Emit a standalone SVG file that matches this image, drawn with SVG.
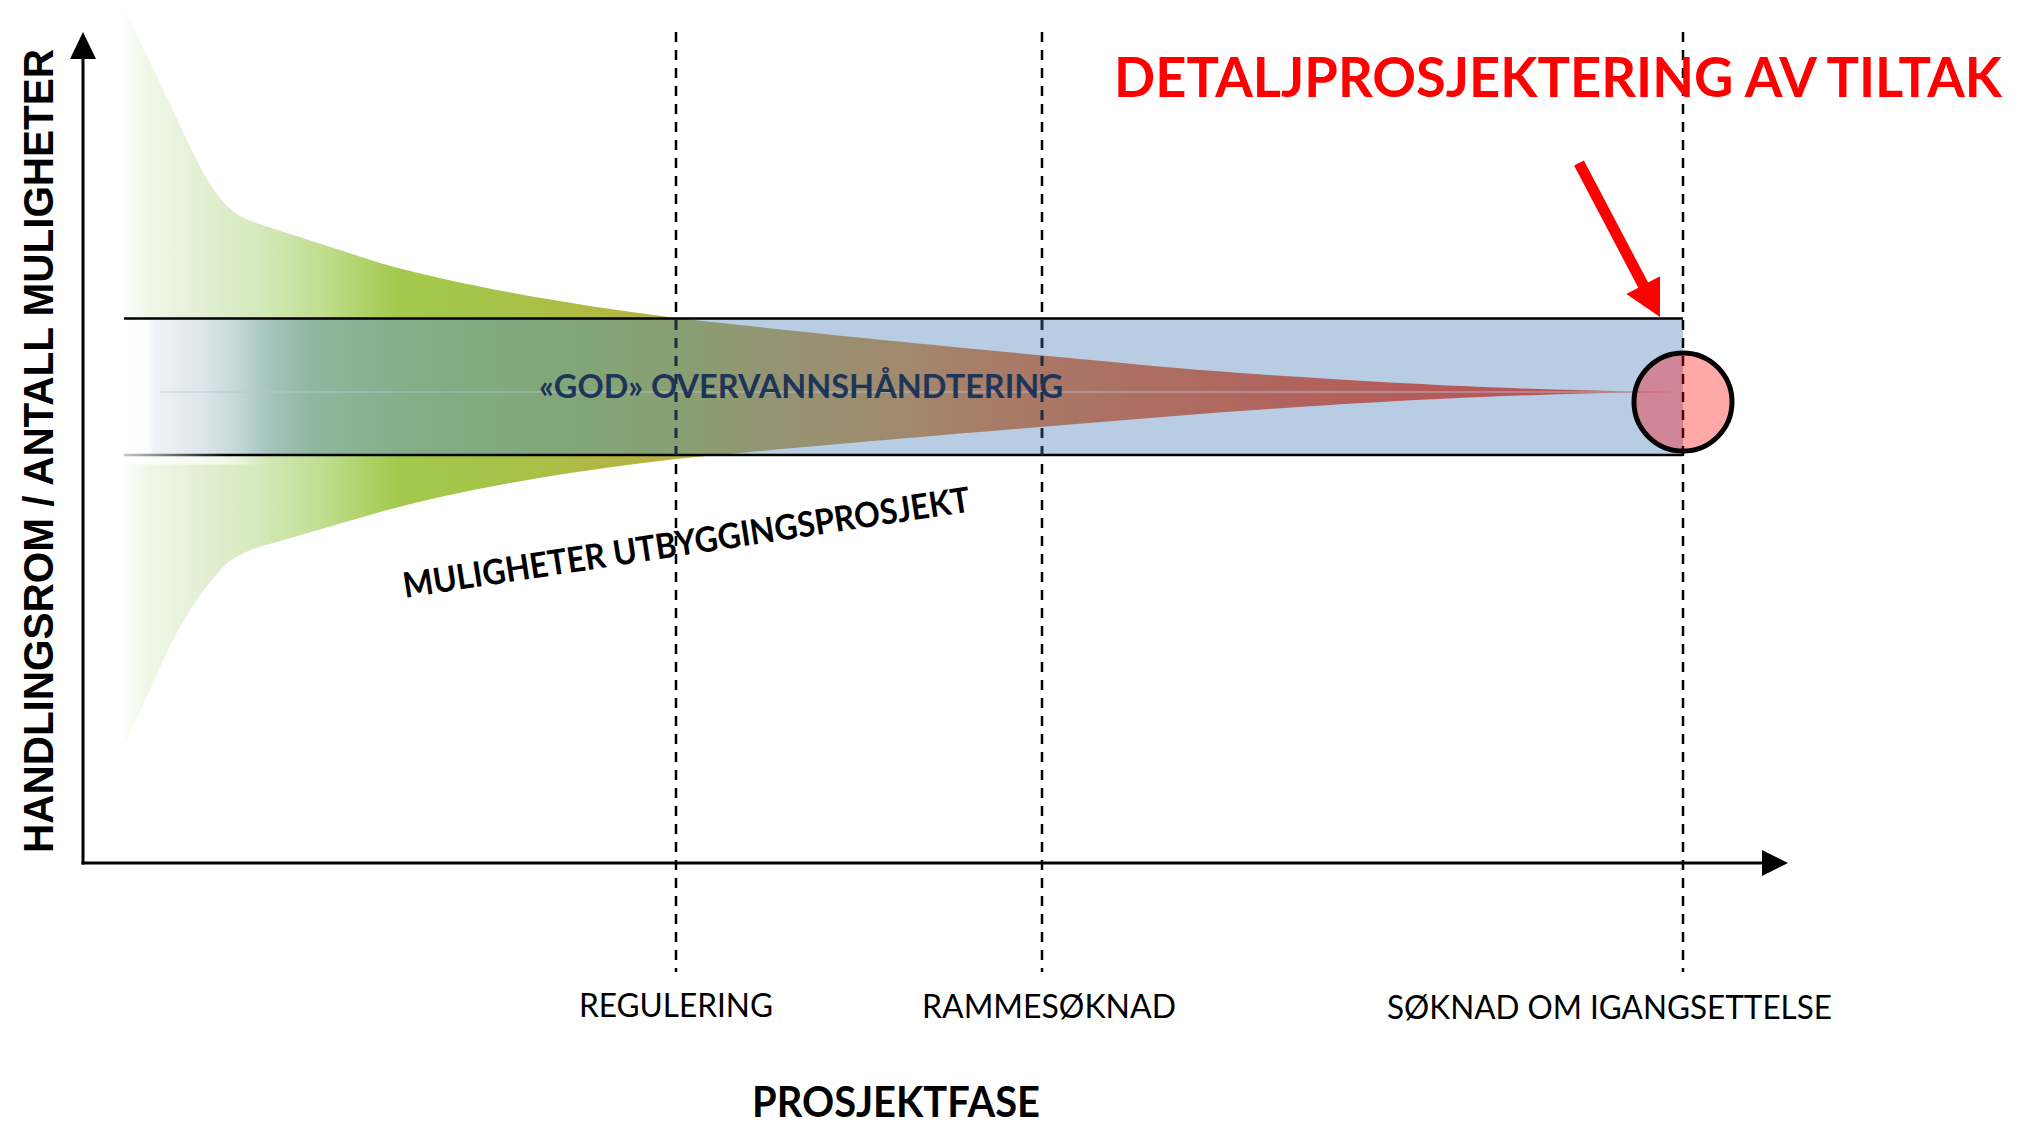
<svg xmlns="http://www.w3.org/2000/svg" width="2036" height="1124" viewBox="0 0 2036 1124">
  <defs>
    <style>
      .lbl{font-family:Lato,"Open Sans","Liberation Sans",sans-serif;font-size:32px;fill:#000}
      .bold{font-weight:700}
      .axis{stroke:#000;stroke-width:3;fill:none}
      .phase{stroke:#000;stroke-width:2.5;stroke-dasharray:10 8;fill:none}
      .phase-in{stroke:#1d2c44;stroke-width:2.5;stroke-dasharray:10 8;fill:none}
      .edge{stroke:#000;stroke-width:2.5}
    </style>
    <!-- colour ramp of the opportunity funnel outside the band -->
    <linearGradient id="funnelOut" gradientUnits="userSpaceOnUse" x1="124" y1="0" x2="1676" y2="0">
      <stop offset="0" stop-color="#fbfdf8"/>
      <stop offset="0.0167" stop-color="#eff7e7"/>
      <stop offset="0.049" stop-color="#e3f0d4"/>
      <stop offset="0.0876" stop-color="#d4e9bb"/>
      <stop offset="0.1263" stop-color="#c1de92"/>
      <stop offset="0.165" stop-color="#a9ce5a"/>
      <stop offset="0.1778" stop-color="#a3c94c"/>
      <stop offset="0.2294" stop-color="#a4c54a"/>
      <stop offset="0.2809" stop-color="#acbd45"/>
      <stop offset="0.3325" stop-color="#b5b443"/>
      <stop offset="0.3711" stop-color="#bab040"/>
      <stop offset="0.5" stop-color="#a88a6e"/>
      <stop offset="1" stop-color="#bf4c52"/>
    </linearGradient>
    <!-- colour ramp of the funnel where it overlaps the band -->
    <linearGradient id="funnelIn" gradientUnits="userSpaceOnUse" x1="124" y1="0" x2="1676" y2="0">
      <stop offset="0" stop-color="#ffffff"/>
      <stop offset="0.0155" stop-color="#fbfcfd"/>
      <stop offset="0.020" stop-color="#eef2f6"/>
      <stop offset="0.049" stop-color="#dfe8ed"/>
      <stop offset="0.0747" stop-color="#c2d6d6"/>
      <stop offset="0.0928" stop-color="#a6c4bd"/>
      <stop offset="0.1211" stop-color="#8fb8a0"/>
      <stop offset="0.1791" stop-color="#84ae88"/>
      <stop offset="0.2655" stop-color="#7fa87b"/>
      <stop offset="0.3518" stop-color="#88a073"/>
      <stop offset="0.4356" stop-color="#979272"/>
      <stop offset="0.5" stop-color="#a08a6e"/>
      <stop offset="0.5644" stop-color="#a87b67"/>
      <stop offset="0.7255" stop-color="#b0665e"/>
      <stop offset="0.8866" stop-color="#b85658"/>
      <stop offset="1" stop-color="#bf4c52"/>
    </linearGradient>
    <linearGradient id="lowerEdge" gradientUnits="userSpaceOnUse" x1="124" y1="0" x2="230" y2="0">
      <stop offset="0" stop-color="#c8c8c8"/>
      <stop offset="1" stop-color="#000"/>
    </linearGradient>
    <linearGradient id="stripFade" gradientUnits="userSpaceOnUse" x1="124" y1="0" x2="270" y2="0">
      <stop offset="0" stop-color="#fff" stop-opacity="0.9"/>
      <stop offset="0.7" stop-color="#fff" stop-opacity="0.6"/>
      <stop offset="1" stop-color="#fff" stop-opacity="0"/>
    </linearGradient>
    <clipPath id="bandClip">
      <rect x="124" y="318.5" width="1559" height="136.5"/>
    </clipPath>
    <path id="funnelPath" d="M124,8 L168,100 C185,135 205,185 228,207 C238,216 245,219 256,223 L380,263 C470,288 580,306 676,318 C800,332 1000,352 1200,370 C1400,385 1550,391 1676,392 C1550,393 1400,399 1200,414 C1000,430 800,447 676,459 C580,470 470,487 380,512 L256,548 C245,552 238,556 228,562 C205,585 185,615 168,650 L124,747 Z"/>
  </defs>

  <rect width="2036" height="1124" fill="#fff"/>

  <!-- funnel of project opportunities -->
  <g id="funnel">
    <use href="#funnelPath" fill="url(#funnelOut)"/>
    <rect x="124" y="456.5" width="146" height="8" fill="url(#stripFade)"/>
  </g>

  <!-- stormwater band -->
  <g id="band">
    <rect x="124" y="318.5" width="1559" height="136.5" fill="#b8cce4"/>
    <use href="#funnelPath" fill="url(#funnelIn)" clip-path="url(#bandClip)"/>
    <line x1="160" y1="392" x2="1676" y2="392" stroke="#b4c8d4" stroke-width="1.5" opacity="0.55"/>
    <line class="edge" x1="124" y1="318.5" x2="1683" y2="318.5"/>
    <line x1="124" y1="455" x2="1683" y2="455" stroke="url(#lowerEdge)" stroke-width="2.5"/>
  </g>

  <!-- phase markers -->
  <g id="phase-lines">
    <line class="phase" x1="676" y1="32" x2="676" y2="972"/>
    <line class="phase" x1="1042" y1="32" x2="1042" y2="972"/>
    <line class="phase" x1="1683" y1="32" x2="1683" y2="972"/>
    <g clip-path="url(#bandClip)">
      <line class="phase-in" x1="676" y1="32" x2="676" y2="972"/>
      <line class="phase-in" x1="1042" y1="32" x2="1042" y2="972"/>
    </g>
  </g>

  <!-- end point of the funnel -->
  <g id="endpoint">
    <circle cx="1683" cy="402" r="49" fill="#ff0000" fill-opacity="0.34" stroke="#000" stroke-width="5"/>
  </g>

  <!-- axes -->
  <g id="axes">
    <line class="axis" x1="83" y1="864.5" x2="83" y2="56"/>
    <polygon points="83,32 70,59 96,59" fill="#000"/>
    <line class="axis" x1="81.5" y1="863" x2="1764" y2="863"/>
    <polygon points="1788,863 1762,850 1762,876" fill="#000"/>
  </g>

  <!-- pointer to the detailed design stage -->
  <g id="connectors">
    <polygon points="1583.9,160.4 1648.1,282.5 1660,276.3 1660,317 1626.4,293.9 1638.3,287.7 1574.1,165.6" fill="#ff0000"/>
  </g>

  <g id="title">
    <text class="lbl bold" x="1114" y="97" style="font-size:55px;fill:#ff0000" textLength="888" lengthAdjust="spacingAndGlyphs">DETALJPROSJEKTERING AV TILTAK</text>
  </g>

  <g id="band-label">
    <text class="lbl bold" x="539" y="398" style="font-size:33px;fill:#1f3558" textLength="524" lengthAdjust="spacingAndGlyphs">«GOD» OVERVANNSHÅNDTERING</text>
  </g>

  <g id="funnel-label">
    <text class="lbl bold" transform="translate(405,598) rotate(-8.7)" style="font-size:35px" textLength="573" lengthAdjust="spacingAndGlyphs">MULIGHETER UTBYGGINGSPROSJEKT</text>
  </g>

  <g id="y-label">
    <text transform="translate(53,853) rotate(-90)" style="font-family:'Liberation Sans',Arial,sans-serif;font-weight:700;font-size:43px" textLength="804" lengthAdjust="spacingAndGlyphs">HANDLINGSROM / ANTALL MULIGHETER</text>
  </g>

  <g id="phase-labels">
    <text class="lbl" x="579" y="1017" textLength="194" lengthAdjust="spacingAndGlyphs">REGULERING</text>
    <text class="lbl" x="922" y="1018" textLength="254" lengthAdjust="spacingAndGlyphs">RAMMESØKNAD</text>
    <text class="lbl" x="1387" y="1019" textLength="445" lengthAdjust="spacingAndGlyphs">SØKNAD OM IGANGSETTELSE</text>
  </g>

  <g id="x-label">
    <text class="lbl bold" x="752" y="1117" style="font-size:42px" textLength="288" lengthAdjust="spacingAndGlyphs">PROSJEKTFASE</text>
  </g>
</svg>
